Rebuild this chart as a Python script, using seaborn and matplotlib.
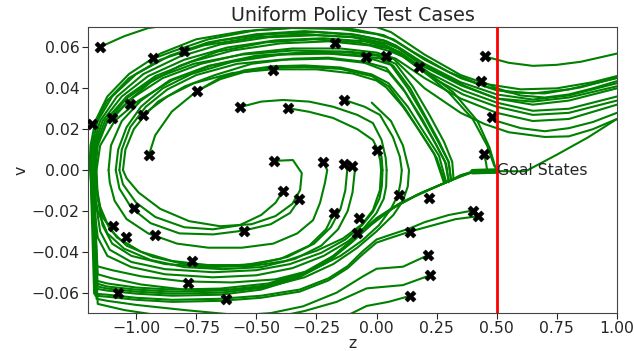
import matplotlib
matplotlib.use("Agg")
import matplotlib.pyplot as plt
import seaborn as sns
import pandas as pd

# ---------------- data ----------------
# start states of the test cases (black X markers)
start_z = [-1.149, -0.928, -0.802, -1.183, -1.102, -1.026, -0.972, -0.748, -0.432, -0.569,
           -0.369, -0.947, -0.135, -0.044, -0.173, 0.451, 0.434, 0.482, 0.446, 0.004,
           -0.427, -0.222, -0.136, -0.101, -0.390, -0.324, 0.092, 0.220, -0.177, -0.072,
           -0.081, 0.400, 0.423, 0.139, 0.215, 0.223, 0.139, -0.552, -1.011, -1.097,
           -1.041, -0.920, -0.768, -0.785, -1.077, -0.628, 0.175, 0.041]
start_v = [0.0603, 0.0546, 0.0584, 0.0223, 0.0257, 0.0321, 0.0270, 0.0386, 0.0491, 0.0308,
           0.0303, 0.0074, 0.0344, 0.0553, 0.0624, 0.0556, 0.0437, 0.0262, 0.0078, 0.0097,
           0.0045, 0.0037, 0.0032, 0.0020, -0.0104, -0.0144, -0.0120, -0.0138, -0.0210, -0.0236,
           -0.0306, -0.0198, -0.0226, -0.0301, -0.0416, -0.0515, -0.0616, -0.0296, -0.0185, -0.0273,
           -0.0328, -0.0316, -0.0445, -0.0551, -0.0600, -0.0629, 0.0502, 0.0556]

# upper-half trajectory pieces (v > 0, z increasing)
bundle_1 = [(-1.195, 0.0), (-1.19, 0.012), (-1.17, 0.024), (-1.12, 0.036), (-1.03, 0.047), (-0.90, 0.057),
            (-0.75, 0.064), (-0.55, 0.068), (-0.35, 0.0695), (-0.15, 0.069), (0.0, 0.0665), (0.07, 0.064),
            (0.15, 0.058), (0.30, 0.048), (0.45, 0.041), (0.55, 0.038), (0.70, 0.0375), (0.85, 0.0405), (1.0, 0.0452)]
bundle_2 = [(-1.19, 0.0), (-1.185, 0.012), (-1.16, 0.024), (-1.10, 0.036), (-1.00, 0.047), (-0.86, 0.056),
            (-0.70, 0.0625), (-0.50, 0.0665), (-0.30, 0.068), (-0.10, 0.0665), (0.03, 0.0635), (0.08, 0.061),
            (0.20, 0.052), (0.35, 0.043), (0.50, 0.037), (0.65, 0.0345), (0.80, 0.0365), (1.0, 0.0425)]
bundle_3 = [(-1.185, 0.0), (-1.18, 0.012), (-1.15, 0.024), (-1.08, 0.036), (-0.97, 0.047), (-0.82, 0.0555),
            (-0.65, 0.0615), (-0.45, 0.065), (-0.25, 0.066), (-0.08, 0.065), (0.04, 0.062), (0.09, 0.0595),
            (0.20, 0.0505), (0.35, 0.0415), (0.50, 0.035), (0.65, 0.032), (0.80, 0.034), (1.0, 0.040)]
bundle_4 = [(-1.18, 0.0), (-1.175, 0.012), (-1.14, 0.024), (-1.06, 0.036), (-0.95, 0.046), (-0.80, 0.054),
            (-0.62, 0.060), (-0.42, 0.0635), (-0.22, 0.0645), (-0.05, 0.063), (0.05, 0.060), (0.10, 0.0575),
            (0.22, 0.0475), (0.36, 0.039), (0.50, 0.033), (0.65, 0.029), (0.80, 0.030), (1.0, 0.036)]
bundle_5 = [(-1.18, 0.0), (-1.17, 0.012), (-1.13, 0.024), (-1.04, 0.036), (-0.92, 0.046), (-0.77, 0.053),
            (-0.60, 0.0585), (-0.40, 0.062), (-0.20, 0.063), (-0.03, 0.061), (0.06, 0.058), (0.11, 0.0555),
            (0.22, 0.046), (0.36, 0.037), (0.50, 0.031), (0.65, 0.027), (0.80, 0.028), (1.0, 0.034)]
bundle_6 = [(-1.175, 0.0), (-1.165, 0.012), (-1.12, 0.024), (-1.02, 0.035), (-0.89, 0.045), (-0.73, 0.052),
            (-0.55, 0.057), (-0.35, 0.0595), (-0.15, 0.0595), (0.0, 0.0575), (0.08, 0.0545), (0.20, 0.045),
            (0.35, 0.035), (0.50, 0.028), (0.65, 0.024), (0.80, 0.025), (1.0, 0.032)]
bundle_7 = [(-1.165, 0.0), (-1.15, 0.012), (-1.09, 0.024), (-0.99, 0.034), (-0.85, 0.044), (-0.69, 0.051),
            (-0.50, 0.0555), (-0.30, 0.0575), (-0.12, 0.058), (0.0, 0.0565), (0.07, 0.0545), (0.20, 0.040),
            (0.35, 0.028), (0.45, 0.0225), (0.55, 0.0185), (0.70, 0.0162), (0.80, 0.0165), (0.90, 0.020), (1.0, 0.025)]
top_m1 = [(-1.149, 0.0603), (-1.05, 0.0655), (-0.95, 0.0695), (-0.85, 0.0712), (-0.20, 0.0712), (0.0, 0.0700),
          (0.06, 0.0675), (0.20, 0.0565), (0.35, 0.0465), (0.46, 0.042), (0.60, 0.0395), (0.75, 0.040),
          (0.90, 0.043), (1.0, 0.046)]
top_m2 = [(-0.928, 0.0546), (-0.85, 0.058), (-0.70, 0.064), (-0.50, 0.0685), (-0.30, 0.0700), (-0.10, 0.069),
          (0.03, 0.066), (0.08, 0.063), (0.20, 0.054), (0.35, 0.045), (0.50, 0.039), (0.65, 0.0375),
          (0.80, 0.0395), (1.0, 0.045)]
top_m3 = [(-0.802, 0.0584), (-0.65, 0.0635), (-0.45, 0.0665), (-0.25, 0.0675), (-0.08, 0.066), (0.04, 0.063),
          (0.09, 0.060), (0.22, 0.050), (0.37, 0.041), (0.50, 0.035), (0.65, 0.0335), (0.80, 0.0355), (1.0, 0.041)]
top_m5 = [(-1.096, 0.0255), (-1.03, 0.034), (-0.94, 0.043), (-0.82, 0.051), (-0.66, 0.058), (-0.46, 0.0625),
          (-0.26, 0.064), (-0.08, 0.0625), (0.05, 0.0595), (0.10, 0.0565), (0.20, 0.048), (0.30, 0.038),
          (0.40, 0.025), (0.46, 0.012), (0.49, 0.002)]
top_m4 = [(-1.175, 0.022), (-1.12, 0.034), (-1.03, 0.045), (-0.90, 0.054), (-0.72, 0.061), (-0.50, 0.065),
          (-0.30, 0.0665), (-0.10, 0.065), (0.03, 0.0615), (0.09, 0.058), (0.20, 0.049), (0.32, 0.038),
          (0.42, 0.024), (0.47, 0.011), (0.495, 0.001)]
top_m7 = [(-0.967, 0.0266), (-0.909, 0.0335), (-0.797, 0.041), (-0.672, 0.0465), (-0.52, 0.052), (-0.35, 0.0545),
          (-0.20, 0.055), (-0.05, 0.053), (0.04, 0.050), (0.11, 0.040), (0.18, 0.026), (0.245, 0.013),
          (0.285, 0.004), (0.30, -0.005)]
turn_57a = [(-1.115, 0.0), (-1.105, 0.012), (-1.06, 0.024), (-0.98, 0.034), (-0.86, 0.044), (-0.70, 0.051),
            (-0.50, 0.056), (-0.30, 0.0575), (-0.10, 0.0565), (0.02, 0.0545), (0.07, 0.051), (0.14, 0.040),
            (0.20, 0.027), (0.26, 0.014), (0.30, 0.004), (0.31, -0.005)]
turn_57b = [(-1.17, 0.0), (-1.16, 0.012), (-1.12, 0.024), (-1.04, 0.035), (-0.92, 0.045), (-0.76, 0.052),
            (-0.56, 0.0565), (-0.35, 0.0585), (-0.15, 0.058), (0.0, 0.056), (0.08, 0.052), (0.15, 0.041),
            (0.22, 0.027), (0.28, 0.014), (0.315, 0.004), (0.32, -0.004)]
spiral_12 = [(-0.947, 0.0074), (-0.921, 0.017), (-0.852, 0.0286), (-0.748, 0.0386), (-0.65, 0.0445),
             (-0.55, 0.048), (-0.432, 0.050), (-0.30, 0.0505), (-0.15, 0.0495), (-0.02, 0.046), (0.05, 0.041),
             (0.12, 0.030), (0.19, 0.017), (0.25, 0.006), (0.285, -0.006)]
spiral_8 = [(-0.748, 0.0386), (-0.65, 0.0452), (-0.55, 0.0488), (-0.432, 0.0508), (-0.30, 0.0512), (-0.15, 0.0502),
            (-0.02, 0.0468), (0.05, 0.0425), (0.13, 0.031), (0.20, 0.018), (0.26, 0.007), (0.29, -0.006)]
spiral_21u = [(-1.055, 0.0), (-1.045, 0.010), (-1.01, 0.020), (-0.95, 0.029), (-0.87, 0.036), (-0.76, 0.0425),
              (-0.60, 0.0475), (-0.432, 0.0493), (-0.25, 0.0493), (-0.10, 0.0473), (0.0, 0.0438), (0.04, 0.0405),
              (0.11, 0.031), (0.18, 0.019), (0.24, 0.008), (0.28, -0.006)]
spiral_25u = [(-1.07, 0.0), (-1.06, 0.010), (-1.025, 0.021), (-0.96, 0.031), (-0.87, 0.0395), (-0.75, 0.0465),
              (-0.58, 0.052), (-0.40, 0.054), (-0.20, 0.0545), (-0.05, 0.0525), (0.05, 0.048), (0.12, 0.038),
              (0.19, 0.025), (0.25, 0.012), (0.29, 0.003), (0.30, -0.006)]
spiral_26u = [(-1.085, 0.0), (-1.075, 0.010), (-1.04, 0.021), (-0.98, 0.031), (-0.89, 0.040), (-0.77, 0.047),
              (-0.60, 0.053), (-0.40, 0.0565), (-0.20, 0.057), (-0.05, 0.0555), (0.06, 0.0515), (0.13, 0.040),
              (0.20, 0.026), (0.26, 0.013), (0.30, 0.004), (0.31, -0.005)]
arc_13 = [(-0.136, 0.0344), (-0.05, 0.031), (0.014, 0.027), (0.068, 0.0162), (0.097, 0.0065), (0.105, 0.0)]
arc_10 = [(-0.569, 0.0308), (-0.48, 0.0335), (-0.389, 0.0343), (-0.28, 0.0335), (-0.181, 0.031), (-0.08, 0.027),
          (-0.015, 0.023), (0.021, 0.0147), (0.038, 0.006), (0.042, 0.0)]
arc_11 = [(-0.369, 0.0303), (-0.28, 0.0285), (-0.181, 0.0255), (-0.08, 0.020), (-0.015, 0.0147), (0.021, 0.0065),
          (0.025, 0.0)]
arc_20 = [(0.004, 0.0097), (0.015, 0.005), (0.019, 0.0)]
right_16 = [(0.451, 0.0556), (0.55, 0.0525), (0.65, 0.051), (0.75, 0.0515), (0.85, 0.053), (1.0, 0.057)]
right_17 = [(0.434, 0.0437), (0.50, 0.040), (0.60, 0.0365), (0.70, 0.0355), (0.80, 0.037), (0.90, 0.040), (1.0, 0.0435)]
right_18 = [(0.482, 0.0262), (0.50, 0.024), (0.60, 0.0205), (0.70, 0.019), (0.80, 0.0205), (0.90, 0.0235), (1.0, 0.028)]
right_19 = [(0.446, 0.0078), (0.455, 0.004), (0.46, 0.0)]
goal_run = [(0.50, -0.0005), (0.55, -0.0006), (0.62, -0.0006), (0.75, 0.0075), (0.88, 0.016), (1.0, 0.025)]

# lower-half trajectory pieces (v < 0, z decreasing)
diag_1 = [(0.40, -0.0008), (0.35, -0.0025), (0.31, -0.005), (0.20, -0.0105), (0.10, -0.016), (0.0, -0.0235),
          (-0.08, -0.032), (-0.18, -0.042), (-0.30, -0.050), (-0.45, -0.0555), (-0.65, -0.058), (-0.85, -0.0585),
          (-1.0, -0.0575), (-1.12, -0.0555), (-1.17, -0.054), (-1.19, 0.0)]
diag_2 = [(0.40, -0.0008), (0.35, -0.0027), (0.30, -0.0055), (0.19, -0.011), (0.09, -0.017), (-0.01, -0.025),
          (-0.09, -0.0335), (-0.19, -0.043), (-0.31, -0.051), (-0.46, -0.0565), (-0.65, -0.059), (-0.85, -0.0595),
          (-1.0, -0.0585), (-1.12, -0.057), (-1.165, -0.0555), (-1.185, 0.0)]
diag_3 = [(0.40, -0.001), (0.35, -0.003), (0.29, -0.006), (0.17, -0.012), (0.07, -0.0185), (-0.02, -0.0265),
          (-0.10, -0.035), (-0.20, -0.0445), (-0.32, -0.052), (-0.47, -0.0575), (-0.65, -0.060), (-0.85, -0.0605),
          (-1.0, -0.0595), (-1.12, -0.058), (-1.16, -0.057), (-1.18, 0.0)]
diag_4 = [(0.40, -0.001), (0.35, -0.0032), (0.28, -0.0065), (0.16, -0.0128), (0.06, -0.019), (-0.03, -0.0275),
          (-0.11, -0.036), (-0.21, -0.0455), (-0.33, -0.053), (-0.48, -0.0585), (-0.65, -0.061), (-0.85, -0.0615),
          (-1.0, -0.0605), (-1.12, -0.059), (-1.17, -0.058), (-1.175, 0.0)]
diag_32 = [(0.40, -0.0198), (0.30, -0.022), (0.20, -0.0255), (0.139, -0.0285), (0.05, -0.032), (0.0, -0.034),
           (-0.06, -0.040), (-0.12, -0.047), (-0.20, -0.053), (-0.32, -0.0585), (-0.48, -0.0615), (-0.65, -0.063),
           (-0.85, -0.0635), (-1.0, -0.0625), (-1.12, -0.061), (-1.175, -0.0605), (-1.19, 0.0)]
diag_33 = [(0.423, -0.0226), (0.33, -0.024), (0.22, -0.0275), (0.139, -0.0301), (0.05, -0.0335), (0.0, -0.0355),
           (-0.06, -0.0415), (-0.12, -0.048), (-0.20, -0.054), (-0.32, -0.0595), (-0.48, -0.0625), (-0.65, -0.064),
           (-0.85, -0.0645), (-1.0, -0.0635), (-1.12, -0.062), (-1.17, -0.0615), (-1.185, 0.0)]
low_35 = [(0.215, -0.0416), (0.11, -0.0473), (0.0, -0.0483), (-0.056, -0.052), (-0.166, -0.060), (-0.306, -0.0667),
          (-0.44, -0.0700), (-0.50, -0.0705), (-0.62, -0.0705), (-0.80, -0.0685), (-1.0, -0.066), (-1.12, -0.064),
          (-1.165, -0.063), (-1.19, 0.0)]
low_36 = [(0.223, -0.0515), (0.11, -0.0563), (-0.041, -0.0579), (-0.166, -0.0645), (-0.30, -0.069), (-0.40, -0.0715),
          (-0.70, -0.0725), (-0.90, -0.0712), (-1.05, -0.0685), (-1.16, -0.0655), (-1.185, 0.0)]
low_37 = [(0.139, -0.0616), (0.05, -0.0645), (-0.041, -0.0665), (-0.11, -0.0705), (-0.30, -0.075)]
mid_1 = [(-0.02, 0.033), (0.06, 0.024), (0.11, 0.012), (0.135, 0.0), (0.13, -0.008), (0.11, -0.015), (0.07, -0.022),
         (0.0, -0.030), (-0.08, -0.038), (-0.18, -0.046), (-0.30, -0.0525), (-0.45, -0.057), (-0.60, -0.0585),
         (-0.80, -0.0585), (-0.98, -0.056), (-1.10, -0.053), (-1.16, -0.051), (-1.18, 0.0)]
mid_2 = [(0.105, 0.0), (0.10, -0.006), (0.09, -0.012), (0.06, -0.019), (0.01, -0.027), (-0.06, -0.0345),
         (-0.15, -0.042), (-0.27, -0.049), (-0.42, -0.0535), (-0.60, -0.055), (-0.80, -0.0545), (-0.98, -0.052),
         (-1.10, -0.049), (-1.165, -0.047), (-1.175, 0.0)]
mid_3 = [(0.042, 0.0), (0.04, -0.008), (0.03, -0.014), (0.0, -0.021), (-0.05, -0.028), (-0.12, -0.035),
         (-0.22, -0.042), (-0.35, -0.048), (-0.50, -0.0515), (-0.68, -0.0525), (-0.88, -0.051), (-1.02, -0.0475),
         (-1.12, -0.042), (-1.16, -0.033), (-1.175, -0.018), (-1.18, 0.0)]
mid_4 = [(0.025, 0.0), (0.022, -0.008), (0.012, -0.014), (-0.015, -0.0205), (-0.06, -0.027), (-0.13, -0.034),
         (-0.23, -0.0405), (-0.36, -0.046), (-0.50, -0.049), (-0.68, -0.050), (-0.88, -0.0485), (-1.02, -0.045),
         (-1.11, -0.039), (-1.15, -0.030), (-1.168, -0.016), (-1.172, 0.0)]
mid_20 = [(0.019, 0.0), (0.014, -0.0098), (-0.015, -0.0196), (-0.06, -0.0265), (-0.14, -0.0335), (-0.25, -0.0395),
          (-0.38, -0.0445), (-0.52, -0.047), (-0.70, -0.0475), (-0.88, -0.046), (-1.02, -0.042), (-1.10, -0.036),
          (-1.14, -0.027), (-1.16, -0.014), (-1.165, 0.0)]
curl_22 = [(-0.222, 0.0037), (-0.205, 0.0), (-0.215, -0.0064), (-0.235, -0.016), (-0.264, -0.0245), (-0.33, -0.031),
           (-0.43, -0.036), (-0.56, -0.038), (-0.70, -0.038), (-0.83, -0.036), (-0.95, -0.031), (-1.04, -0.024),
           (-1.09, -0.015), (-1.11, -0.006), (-1.115, 0.0)]
curl_23 = [(-0.136, 0.0032), (-0.122, 0.0), (-0.13, -0.010), (-0.15, -0.019), (-0.19, -0.028), (-0.26, -0.036),
           (-0.37, -0.0425), (-0.50, -0.046), (-0.66, -0.047), (-0.80, -0.046), (-0.93, -0.0425), (-1.04, -0.037),
           (-1.11, -0.029), (-1.15, -0.018), (-1.165, -0.008), (-1.17, 0.0)]
curl_24 = [(-0.101, 0.002), (-0.09, 0.0), (-0.10, -0.011), (-0.12, -0.020), (-0.16, -0.029), (-0.23, -0.037),
           (-0.34, -0.0435), (-0.48, -0.0475), (-0.64, -0.0485), (-0.80, -0.0475), (-0.94, -0.044), (-1.05, -0.0385),
           (-1.12, -0.031), (-1.16, -0.020), (-1.18, -0.008), (-1.185, 0.0)]
curl_29 = [(-0.177, -0.021), (-0.21, -0.029), (-0.28, -0.037), (-0.40, -0.0435), (-0.55, -0.0465), (-0.70, -0.0465),
           (-0.85, -0.0445), (-0.98, -0.040), (-1.08, -0.033), (-1.14, -0.023), (-1.165, -0.011), (-1.17, 0.0)]
spiral_21d = [(-0.427, 0.0045), (-0.348, 0.0049), (-0.311, -0.0015), (-0.318, -0.0098), (-0.35, -0.0165),
              (-0.42, -0.0225), (-0.52, -0.0265), (-0.65, -0.0275), (-0.78, -0.025), (-0.90, -0.019),
              (-0.99, -0.011), (-1.04, -0.004), (-1.055, 0.0)]
spiral_25d = [(-0.39, -0.0104), (-0.42, -0.016), (-0.48, -0.022), (-0.57, -0.027), (-0.68, -0.029), (-0.80, -0.028),
              (-0.92, -0.023), (-1.0, -0.016), (-1.055, -0.007), (-1.07, 0.0)]
spiral_26d = [(-0.323, -0.0147), (-0.36, -0.021), (-0.44, -0.0265), (-0.552, -0.0296), (-0.68, -0.0315),
              (-0.82, -0.031), (-0.94, -0.026), (-1.02, -0.0185), (-1.07, -0.009), (-1.085, 0.0)]

segments = [bundle_1, bundle_2, bundle_3, bundle_4, bundle_5, bundle_6, bundle_7,
            top_m1, top_m2, top_m3, top_m4, top_m5, top_m7, turn_57a, turn_57b,
            spiral_12, spiral_8, spiral_21u, spiral_25u, spiral_26u, arc_13, arc_10, arc_11, arc_20,
            right_16, right_17, right_18, right_19, goal_run,
            diag_1, diag_2, diag_3, diag_4, diag_32, diag_33, low_35, low_36, low_37,
            mid_1, mid_2, mid_3, mid_4, mid_20, curl_22, curl_23, curl_24, curl_29,
            spiral_21d, spiral_25d, spiral_26d]

# goal states (thick green segment just left of the goal line)
goal_states_z = [0.40, 0.45, 0.50]
goal_states_v = [-0.0008, -0.0006, -0.0005]
goal_z = 0.5
goal_label = "Goal States"
x_ticks = [-1.0, -0.75, -0.5, -0.25, 0.0, 0.25, 0.5, 0.75, 1.0]
y_ticks = [-0.06, -0.04, -0.02, 0.0, 0.02, 0.04, 0.06]

# ---------------- plotting ----------------
sns.set_style("ticks")
plt.rcParams["font.family"] = ["DejaVu Sans"]

rows = []
for i, seg in enumerate(segments):
    for k, (z, v) in enumerate(seg):
        rows.append({"seg": i, "order": k, "z": z, "v": v})
df = pd.DataFrame(rows)

fig, ax = plt.subplots(figsize=(6.34, 3.51), dpi=100)
fig.subplots_adjust(left=0.139, right=0.973, bottom=0.108, top=0.923)

sns.lineplot(data=df, x="z", y="v", units="seg", estimator=None, sort=False,
             color="green", linewidth=1.5, ax=ax, legend=False)
sns.lineplot(x=goal_states_z, y=goal_states_v, sort=False, color="green",
             linewidth=4, ax=ax, legend=False)
sns.scatterplot(x=start_z, y=start_v, marker="X", color="black", s=65,
                linewidth=0.3, edgecolor="black", ax=ax, zorder=5, legend=False)
ax.axvline(goal_z, color="red", linewidth=2, zorder=6)
ax.text(goal_z, 0.0, goal_label, fontsize=11.3, va="center", ha="left", zorder=7)

ax.set_xlim(-1.2, 1.0)
ax.set_ylim(-0.07, 0.07)
ax.set_xticks(x_ticks)
ax.set_yticks(y_ticks)
ax.set_xticklabels([f"{t:.2f}".replace("-", "\u2212") for t in x_ticks])
ax.set_yticklabels([f"{t:.2f}".replace("-", "\u2212") for t in y_ticks])
ax.tick_params(labelsize=11.3, length=4, pad=2)
for s in ax.spines.values():
    s.set_color("#444444")
ax.set_xlabel("z", fontsize=11.3, labelpad=0)
ax.set_ylabel("v", fontsize=11.3, labelpad=2)
ax.set_title("Uniform Policy Test Cases", fontsize=13.8, pad=4)

fig.savefig("out.png", dpi=100)
